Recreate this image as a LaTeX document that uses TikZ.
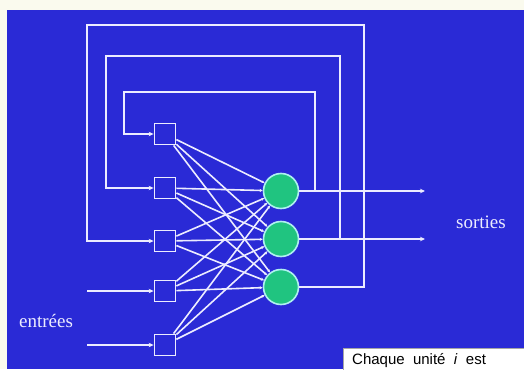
\documentclass[tikz,border=0pt]{standalone}
\usepackage{fontspec}
\setmainfont{Liberation Serif}
\newfontfamily\arialf{Liberation Sans}
\usetikzlibrary{arrows.meta}
\definecolor{bgblue}{RGB}{42,42,214}
\definecolor{cream}{RGB}{250,250,238}
\definecolor{lin}{RGB}{236,236,255}
\definecolor{neur}{RGB}{32,196,128}
\definecolor{neurb}{RGB}{175,240,240}
\begin{document}
\begin{tikzpicture}[x=1pt,y=-1pt,
  wire/.style={draw=lin, line width=1.8pt},
  arr/.style={wire, -{Stealth[length=5pt,width=4.5pt]}},
  link/.style={wire, line width=1.6pt, -{Stealth[length=3pt,width=3pt]}},
  inbox/.style={draw=lin, line width=1.8pt, minimum size=21pt, inner sep=0pt},
  neuron/.style={circle, fill=neur, draw=neurb, line width=1.6pt, minimum size=35pt, inner sep=0pt},
  lab/.style={text=lin, font=\fontsize{19}{22}\selectfont}]
\fill[cream] (0,0) rectangle (524,369);
\fill[bgblue] (7,10) rectangle (524,369);
\useasboundingbox (0,0) rectangle (524,369);

% input units
\node[inbox] (s1) at (165,134) {};
\node[inbox] (s2) at (165,188) {};
\node[inbox] (s3) at (165,241) {};
\node[inbox] (s4) at (165,291) {};
\node[inbox] (s5) at (165,345) {};

% output units
\node[neuron] (n1) at (281,191) {};
\node[neuron] (n2) at (281,239) {};
\node[neuron] (n3) at (281,287) {};

% full connections
\foreach \i in {1,...,5} {
  \foreach \j in {1,2,3} {
    \draw[link] (s\i) -- (n\j);
  }
}

% outputs
\coordinate (o1) at (425,191);
\coordinate (o2) at (425,239);
\draw[arr] (n1) -- (o1);
\draw[arr] (n2) -- (o2);

% feedback loops
\coordinate (b1) at (315,191);
\coordinate (b2) at (340,239);
\draw[arr] (b1) |- (124,92) |- (s1.west);
\draw[arr] (b2) |- (106,56) |- (s2.west);
\draw[arr] (n3.east) -| (364,25) -| (87,241) -- (s3.west);

% external inputs
\coordinate (i4) at (87,291);
\coordinate (i5) at (87,345);
\draw[arr] (i4) -- (s4.west);
\draw[arr] (i5) -- (s5.west);

% labels
\node[lab] (sorties) at (481,222) {sorties};
\node[lab] (entrees) at (46,321) {entrées};

% caption box (cut by the frame)
\begin{scope}
\clip (0,0) rectangle (524,369);
\draw[fill=white, draw=gray!70] (343,348) rectangle (530,380);
\node[anchor=base west, font=\arialf\fontsize{15}{18}\selectfont, inner sep=0pt] (cap) at (352,364) {Chaque \ unité \ \textit{i} \ est};
\end{scope}
\end{tikzpicture}
\end{document}
